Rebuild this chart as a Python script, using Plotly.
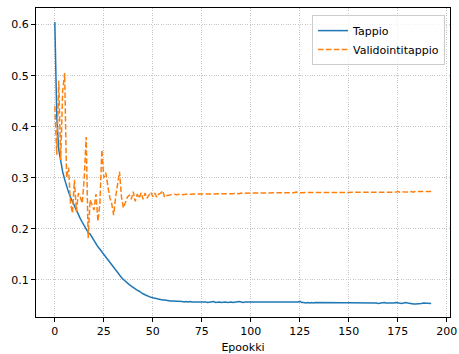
import plotly.graph_objects as go

epochs = list(range(193))

tappio = [
    0.605, 0.420, 0.355, 0.330, 0.312, 0.297, 0.283, 0.272, 0.262, 0.253,
    0.245, 0.236, 0.228, 0.220, 0.213, 0.206, 0.199, 0.193, 0.190, 0.183,
    0.176, 0.170, 0.165, 0.160, 0.155, 0.149, 0.143, 0.138, 0.133, 0.128,
    0.123, 0.118, 0.113, 0.109, 0.105, 0.101, 0.097, 0.094, 0.091, 0.088,
    0.085, 0.082, 0.080, 0.078, 0.075, 0.073, 0.071, 0.069, 0.068, 0.066,
    0.065, 0.064, 0.063, 0.062, 0.062, 0.061, 0.061, 0.060, 0.060, 0.059,
    0.059, 0.059, 0.058, 0.059, 0.058, 0.058, 0.057, 0.058, 0.057, 0.058,
    0.057, 0.057, 0.058, 0.057, 0.057, 0.058, 0.057, 0.057, 0.056, 0.057,
    0.057, 0.058, 0.056, 0.057, 0.057, 0.056, 0.057, 0.057, 0.056, 0.057,
    0.057, 0.056, 0.057, 0.057, 0.058, 0.057, 0.056, 0.057, 0.057, 0.056,
    0.057, 0.057, 0.056, 0.057, 0.056, 0.057, 0.057, 0.056, 0.057, 0.056,
    0.057, 0.056, 0.056, 0.057, 0.056, 0.056, 0.057, 0.056, 0.056, 0.057,
    0.056, 0.056, 0.057, 0.056, 0.057, 0.058, 0.056, 0.056, 0.055, 0.056,
    0.055, 0.056, 0.055, 0.056, 0.056, 0.055, 0.056, 0.055, 0.056, 0.055,
    0.056, 0.056, 0.055, 0.056, 0.055, 0.055, 0.056, 0.055, 0.056, 0.055,
    0.056, 0.055, 0.055, 0.056, 0.055, 0.055, 0.056, 0.055, 0.055, 0.056,
    0.055, 0.055, 0.056, 0.055, 0.055, 0.054, 0.055, 0.055, 0.056, 0.055,
    0.055, 0.054, 0.055, 0.055, 0.056, 0.055, 0.055, 0.054, 0.055, 0.056,
    0.055, 0.054, 0.054, 0.053, 0.053, 0.053, 0.054, 0.054, 0.055, 0.055,
    0.054, 0.055, 0.054,
]

validointitappio = [
    0.440, 0.345, 0.490, 0.335, 0.470, 0.505, 0.300, 0.320, 0.250, 0.231,
    0.296, 0.234, 0.270, 0.262, 0.250, 0.300, 0.380, 0.182, 0.257, 0.245,
    0.237, 0.268, 0.215, 0.250, 0.355, 0.300, 0.310, 0.285, 0.262, 0.250,
    0.227, 0.262, 0.290, 0.312, 0.262, 0.241, 0.252, 0.262, 0.266, 0.258,
    0.273, 0.254, 0.268, 0.260, 0.271, 0.258, 0.270, 0.260, 0.266, 0.272,
    0.263, 0.270, 0.262, 0.268, 0.270, 0.275, 0.262, 0.265, 0.266, 0.267,
    0.267, 0.268, 0.267, 0.268, 0.268, 0.267, 0.268, 0.268, 0.268, 0.268,
    0.268, 0.268, 0.269, 0.268, 0.268, 0.269, 0.268, 0.269, 0.269, 0.268,
    0.269, 0.269, 0.269, 0.268, 0.269, 0.269, 0.269, 0.269, 0.269, 0.269,
    0.269, 0.269, 0.270, 0.269, 0.269, 0.270, 0.269, 0.270, 0.270, 0.270,
    0.270, 0.270, 0.270, 0.270, 0.270, 0.270, 0.271, 0.270, 0.270, 0.271,
    0.270, 0.271, 0.271, 0.271, 0.271, 0.270, 0.271, 0.271, 0.271, 0.271,
    0.271, 0.271, 0.271, 0.272, 0.271, 0.271, 0.271, 0.271, 0.271, 0.271,
    0.271, 0.271, 0.271, 0.271, 0.271, 0.271, 0.271, 0.271, 0.271, 0.271,
    0.271, 0.271, 0.271, 0.271, 0.271, 0.271, 0.271, 0.271, 0.271, 0.271,
    0.271, 0.272, 0.271, 0.271, 0.271, 0.272, 0.272, 0.272, 0.272, 0.272,
    0.272, 0.272, 0.272, 0.272, 0.272, 0.272, 0.272, 0.272, 0.272, 0.272,
    0.272, 0.272, 0.272, 0.272, 0.272, 0.273, 0.272, 0.273, 0.272, 0.272,
    0.272, 0.273, 0.273, 0.272, 0.274, 0.273, 0.273, 0.273, 0.273, 0.273,
    0.273, 0.273, 0.273,
]

x_ticks = [0, 25, 50, 75, 100, 125, 150, 175, 200]
y_ticks = [0.1, 0.2, 0.3, 0.4, 0.5, 0.6]

fig = go.Figure()
fig.add_trace(go.Scatter(x=epochs, y=tappio, mode="lines", name="Tappio",
                         line=dict(color="#1f77b4", width=1.5)))
fig.add_trace(go.Scatter(x=epochs, y=validointitappio, mode="lines", name="Validointitappio",
                         line=dict(color="#ff7f0e", width=1.5, dash="5.5px,2.4px")))

axis_common = dict(
    showline=True, linecolor="black", linewidth=1, mirror=True,
    ticks="outside", ticklen=4, tickwidth=0.8, tickcolor="black",
    showgrid=True, gridcolor="#c4c4c4", gridwidth=0.8, griddash="1px,1.4px",
    zeroline=False, automargin=False,
    tickfont=dict(family="DejaVu Sans", size=11, color="black"),
)

fig.update_layout(
    width=459, height=354,
    margin=dict(l=36, r=9, t=8, b=37),
    paper_bgcolor="white", plot_bgcolor="white",
    font=dict(family="DejaVu Sans", size=11, color="black"),
    xaxis=dict(range=[-9.6, 201.6], tickvals=x_ticks,
               title=dict(text="Epookki", font=dict(size=11), standoff=6),
               **axis_common),
    yaxis=dict(range=[0.0275, 0.6325], tickvals=y_ticks, tickformat=".1f",
               **axis_common),
    legend=dict(x=0.988, y=0.977, xanchor="right", yanchor="top",
                bgcolor="rgba(255,255,255,0.8)", bordercolor="#cccccc", borderwidth=1,
                font=dict(size=11), tracegroupgap=0),
    showlegend=True,
)

fig.write_html("out.html")
